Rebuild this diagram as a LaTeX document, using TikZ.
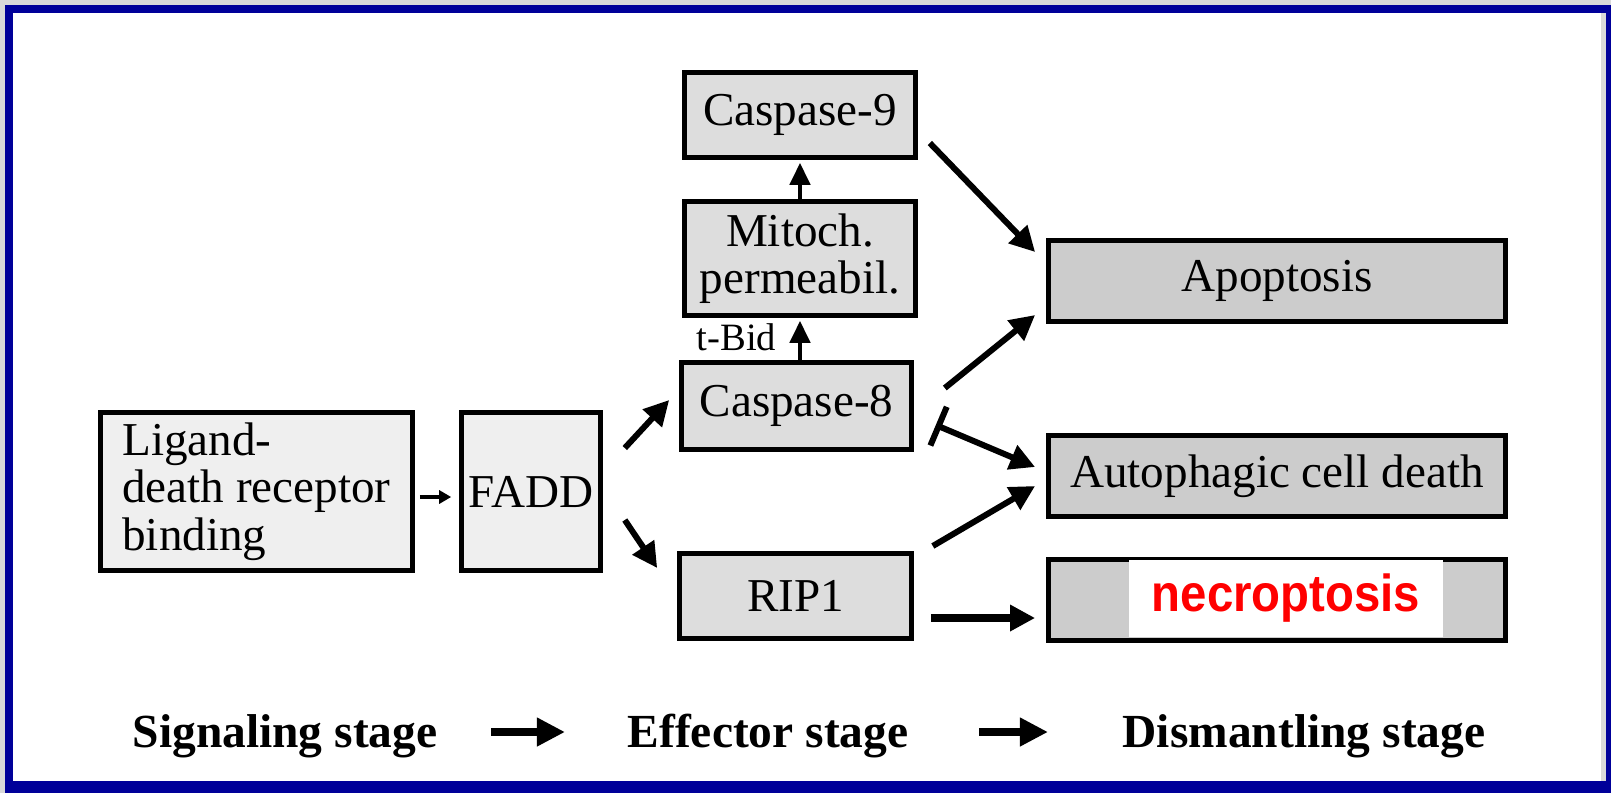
\documentclass[tikz,border=0pt]{standalone}
\usepackage{fontspec}
\setmainfont{Liberation Serif}
\newfontfamily\necrofont{Liberation Sans}[FakeStretch=0.91]
\usetikzlibrary{arrows.meta,calc}

\definecolor{framegray}{HTML}{D9D9D9}
\definecolor{frameblue}{HTML}{000099}
\definecolor{boxlight}{HTML}{EFEFEF}
\definecolor{boxmid}{HTML}{DDDDDD}
\definecolor{boxdark}{HTML}{CCCCCC}
\definecolor{necrored}{HTML}{FF0000}

\newcommand*{\boxfont}{\fontsize{13.4pt}{13.5pt}\selectfont}
\newcommand*{\stagefont}{\fontsize{13.5pt}{14pt}\selectfont\bfseries}

\begin{document}
\begin{tikzpicture}
[
	x=0.01cm,
	y=-0.01cm,
	box/.style={draw,line width=0.055cm,inner sep=0pt,font=\boxfont},
	signalbox/.style={box,fill=boxlight,minimum height=1.575cm},
	effectbox/.style={box,fill=boxmid},
	deathbox/.style={box,fill=boxdark,minimum width=4.565cm,minimum height=0.805cm},
	stagelbl/.style={inner sep=0pt,font=\stagefont},
	arr/.style={line width=0.06cm,-{Triangle[length=0.25cm,width=0.25cm]}},
	uparr/.style={line width=0.045cm,-{Triangle[length=0.22cm,width=0.2cm]},shorten >=0.0275cm},
	thinarr/.style={line width=0.033cm,-{Triangle[length=0.12cm,width=0.13cm]}},
	inhib/.style={line width=0.06cm,{Bar[width=0.42cm]}-{Triangle[length=0.25cm,width=0.25cm]}},
	stagearr/.style={line width=0.08cm,-{Triangle[length=0.28cm,width=0.27cm]}}
]

	% frame
	\useasboundingbox (0,0) rectangle (1611,793);
	\fill[framegray] (0,0) rectangle (1611,793);
	\fill[frameblue] (5,5) rectangle (1611,793);
	\fill[white] (13,13) rectangle (1601,781);
	\fill[framegray] (1601,13) rectangle (1606,781);

	% signaling stage
	\node[signalbox,minimum width=3.115cm,align=left] (lig) at (256.5,491.5) {Ligand-\\death receptor\\binding};
	\node[signalbox,minimum width=1.385cm] (fadd) at (531,491.5) {FADD};

	% effector stage
	\node[effectbox,minimum width=2.305cm,minimum height=0.845cm] (casp9) at (800,115) {Caspase-9};
	\node[effectbox,minimum width=2.305cm,minimum height=1.135cm,align=center] (mito) at (800,258.5) {Mitoch.\\permeabil.};
	\node[effectbox,minimum width=2.295cm,minimum height=0.865cm] (casp8) at (796.5,406) {Caspase-8};
	\node[effectbox,minimum width=2.315cm,minimum height=0.845cm] (rip1) at (795.5,596) {RIP1};

	% dismantling stage
	\node[deathbox] (apop) at (1277,281) {Apoptosis};
	\node[deathbox] (autoph) at (1277,476) {Autophagic cell death};
	\node[deathbox] (necro) at (1277,600) {};
	\node[fill=white,inner sep=0pt,minimum width=3.14cm,minimum height=0.77cm,text=necrored,
		font=\fontsize{14.8pt}{16pt}\selectfont\necrofont\bfseries] (necrotxt) at (1286,598.5) {necroptosis};

	\node[inner sep=0pt,anchor=base east,font=\fontsize{11pt}{12pt}\selectfont] (tbid) at ($(casp8.north)+(-19.5,-9.5)$) {t-Bid};

	% connectors
	\draw[thinarr] ($(lig.east)+(4.75,5.5)$) -- ($(fadd.west)+(-7.75,5.5)$);
	\draw[arr] ($(fadd.east)+(21.75,-43.5)$) -- ($(casp8.west)+(-9.75,-6)$);
	\draw[arr] ($(fadd.east)+(21.75,28.5)$) -- ($(rip1.west)+(-19.75,-28)$);
	\draw[uparr] (mito.south |- casp8.north) -- (mito.south);
	\draw[uparr] (mito.north) -- (casp9.south);
	\draw[arr] ($(casp9.east)+(11.75,28)$) -- ($(apop.west)+(-10.75,-29)$);
	\draw[arr] ($(casp8.east)+(30.75,-18)$) -- ($(apop.west)+(-10.75,34)$);
	\draw[inhib] ($(casp8.east)+(21.75,19)$) -- ($(autoph.west)+(-10.75,-9)$);
	\draw[arr] ($(rip1.east)+(18.75,-50)$) -- ($(autoph.west)+(-10.75,10)$);
	\draw[arr,line width=0.08cm] ($(rip1.east)+(16.75,22)$) -- ($(necro.west)+(-10.75,18)$);

	% stages
	\node[stagelbl,anchor=base west] (sig) at (132,747) {Signaling stage};
	\node[stagelbl,anchor=base west] (eff) at (627,747) {Effector stage};
	\node[stagelbl,anchor=base west] (dis) at (1122,747) {Dismantling stage};

	\draw[stagearr] ($(sig.base east)+(53,-15)$) -- ($(eff.base west)+(-62,-15)$);
	\draw[stagearr] ($(eff.base east)+(70,-15)$) -- ($(dis.base west)+(-74,-15)$);

\end{tikzpicture}
\end{document}
